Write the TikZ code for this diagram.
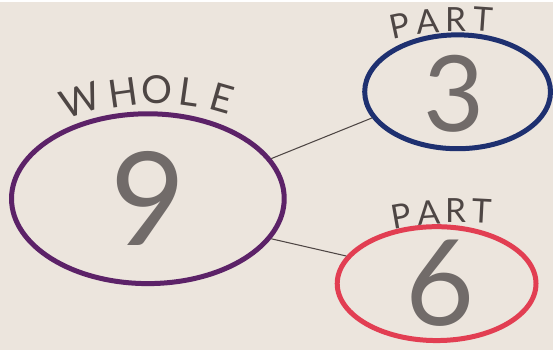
\documentclass[tikz,border=0pt]{standalone}
\usepackage{fontspec}
\setmainfont{Lato}
\usetikzlibrary{shapes.geometric, positioning}
\definecolor{PaperColor}{RGB}{236,229,221}
\definecolor{WholeColor}{RGB}{92,34,104}
\definecolor{PartAColor}{RGB}{30,48,112}
\definecolor{PartBColor}{RGB}{226,62,82}
\definecolor{PencilColor}{RGB}{78,70,68}
\begin{document}
\begin{tikzpicture}[x=0.02cm, y=0.02cm,
    bond/.style={ellipse, draw, line width=0.1cm, inner sep=0pt},
    digit/.style={text=PencilColor!80, font=\fontsize{74}{74}\selectfont},
    letter/.style={text=PencilColor, font=\fontsize{22}{22}\selectfont},
    link/.style={PencilColor, line width=0.6pt}]
    % Paper
    \fill[PaperColor] (0,0) rectangle (553,348);
    % Circles
    \node[bond, WholeColor, minimum width=5.46cm, minimum height=3.4cm] (whole) at (148,151) {};
    \node[bond, PartAColor, minimum width=3.72cm, minimum height=2.28cm] (partA) at (458,258) {};
    \node[bond, PartBColor, minimum width=3.98cm, minimum height=2.28cm] (partB) at (437,66) {};
    % Numbers
    \node[digit] (nine) at (whole) {9};
    \node[digit, font=\fontsize{60}{60}\selectfont] (three) at (454,256) {3};
    \node[digit, font=\fontsize{68}{68}\selectfont] (six) at (440,66) {6};
    % Labels
    \foreach \ch/\x/\y/\r [count=\i] in {W/80/250/18, H/123/257/8, O/157/260/0, L/189/258/-8, E/222/252/-16}
        \node[letter, rotate=\r] (whole-\i) at (\x,\y) {\ch};
    \foreach \ch/\x/\y/\r [count=\i] in {P/400/324/12, A/428/328/5, R/456/330/0, T/484/331/-4}
        \node[letter, rotate=\r, font=\fontsize{19}{19}\selectfont] (partA-\i) at (\x,\y) {\ch};
    \foreach \ch/\x/\y/\r [count=\i] in {P/402/134/10, A/429/137/4, R/456/139/0, T/482/139/-3}
        \node[letter, rotate=\r, font=\fontsize{19}{19}\selectfont] (partB-\i) at (\x,\y) {\ch};
    % Links
    \draw[link] (whole.18) -- (partA.197);
    \draw[link] (whole.342) -- (partB.163);
\end{tikzpicture}
\end{document}
